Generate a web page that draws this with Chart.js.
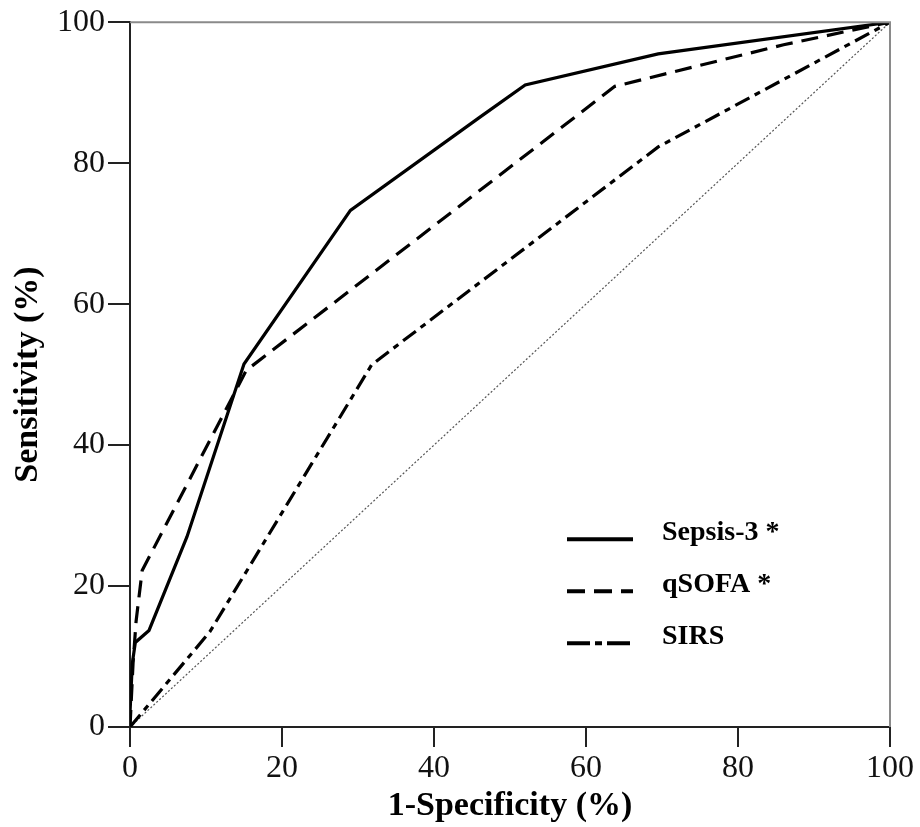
<!DOCTYPE html>
<html>
<head>
<meta charset="utf-8">
<script src="https://cdn.jsdelivr.net/npm/chart.js@4.4.1/dist/chart.umd.min.js"></script>
<style>
  html, body { margin: 0; padding: 0; background: #fff; }
  #wrap { width: 920px; height: 827px; }
</style>
</head>
<body>
<div id="wrap"><canvas id="roc"></canvas></div>
<script>
// ROC curves, values (1-specificity %, sensitivity %)
const sepsis3X = [0, 0, 0.3, 0.7, 2.5, 7.5, 15, 29, 46, 52, 69.5, 100];
const sepsis3Y = [0, 2, 9, 12, 13.7, 27, 51.5, 73.3, 86.5, 91.1, 95.5, 100];

const qsofaX = [0, 0.4, 0.8, 1.6, 15.3, 63.8, 86, 100];
const qsofaY = [0, 9, 15, 22.2, 50.6, 90.9, 96.8, 100];

const sirsX = [0, 10.5, 31.8, 69.5, 100];
const sirsY = [0, 13.5, 51.4, 82.3, 100];

const refX = [0, 100];
const refY = [0, 100];

const seriesLabels = ['Sepsis-3 *', 'qSOFA *', 'SIRS'];
const xTicks = [0, 20, 40, 60, 80, 100];
const yTicks = [0, 20, 40, 60, 80, 100];

const toPoints = (xs, ys) => xs.map((x, i) => ({ x: x, y: ys[i] }));

const serif = "'Liberation Serif', 'Times New Roman', serif";

// top/right frame + legend inside the plot area
const framePlugin = {
  id: 'frameAndLegend',
  afterDraw(chart) {
    const { ctx, chartArea } = chart;
    const { left, right, top, bottom } = chartArea;
    ctx.save();
    ctx.strokeStyle = '#8a8a8a';
    ctx.lineWidth = 2;
    ctx.beginPath();
    ctx.moveTo(left, top);
    ctx.lineTo(right, top);
    ctx.lineTo(right, bottom);
    ctx.stroke();

    // legend
    const lineX0 = left + 437, lineX1 = left + 503, textX = left + 532;
    const rows = [top + 517, top + 569, top + 621];
    ctx.font = 'bold 28px ' + serif;
    ctx.fillStyle = '#000';
    ctx.textBaseline = 'middle';
    seriesLabels.forEach((label, i) => {
      const ds = chart.data.datasets[i];
      ctx.strokeStyle = '#000';
      ctx.lineWidth = 4;
      ctx.setLineDash(ds.legendDash);
      ctx.beginPath();
      ctx.moveTo(lineX0, rows[i]);
      ctx.lineTo(lineX1, rows[i]);
      ctx.stroke();
      ctx.setLineDash([]);
      ctx.fillText(label, textX, rows[i] - 6);
    });
    ctx.restore();
  }
};

new Chart(document.getElementById('roc'), {
  type: 'scatter',
  data: {
    datasets: [
      {
        label: seriesLabels[0],
        data: toPoints(sepsis3X, sepsis3Y),
        showLine: true,
        borderColor: '#000',
        borderWidth: 3.2,
        pointRadius: 0,
        legendDash: [],
      },
      {
        label: seriesLabels[1],
        data: toPoints(qsofaX, qsofaY),
        showLine: true,
        borderColor: '#000',
        borderWidth: 3.2,
        borderDash: [17, 9],
        pointRadius: 0,
        legendDash: [18, 9],
      },
      {
        label: seriesLabels[2],
        data: toPoints(sirsX, sirsY),
        showLine: true,
        borderColor: '#000',
        borderWidth: 3.2,
        borderDash: [16, 6, 6, 6],
        pointRadius: 0,
        legendDash: [23, 5, 7, 5],
      },
      {
        label: 'Reference',
        data: toPoints(refX, refY),
        showLine: true,
        borderColor: '#555',
        borderWidth: 1.2,
        borderDash: [2, 2],
        pointRadius: 0,
      },
    ],
  },
  options: {
    responsive: true,
    maintainAspectRatio: false,
    animation: false,
    layout: { padding: { left: 0, right: 30, top: 21, bottom: 0 } },
    plugins: {
      legend: { display: false },
      tooltip: { enabled: false },
    },
    scales: {
      x: {
        type: 'linear',
        min: 0,
        max: 100,
        afterBuildTicks: (scale) => { scale.ticks = xTicks.map(v => ({ value: v })); },
        afterFit: (scale) => { scale.height = 100; },
        grid: {
          drawOnChartArea: false,
          drawTicks: true,
          tickLength: 20,
          tickColor: '#222',
          lineWidth: 2,
        },
        border: { color: '#222', width: 2 },
        ticks: {
          color: '#111',
          font: { family: serif, size: 32 },
          padding: 2,
          maxRotation: 0,
        },
        title: {
          display: true,
          text: '1-Specificity (%)',
          color: '#000',
          font: { family: serif, size: 34, weight: 'bold' },
          padding: { top: 0, bottom: 0 },
        },
      },
      y: {
        type: 'linear',
        min: 0,
        max: 100,
        afterBuildTicks: (scale) => { scale.ticks = yTicks.map(v => ({ value: v })); },
        afterFit: (scale) => { scale.width = 130; },
        grid: {
          drawOnChartArea: false,
          drawTicks: true,
          tickLength: 22,
          tickColor: '#222',
          lineWidth: 2,
        },
        border: { color: '#222', width: 2 },
        ticks: {
          color: '#111',
          font: { family: serif, size: 32 },
          padding: 3,
        },
        title: {
          display: true,
          text: 'Sensitivity (%)',
          color: '#000',
          font: { family: serif, size: 34, weight: 'bold' },
          padding: { top: 8, bottom: 0 },
        },
      },
    },
  },
  plugins: [framePlugin],
});
</script>
</body>
</html>
